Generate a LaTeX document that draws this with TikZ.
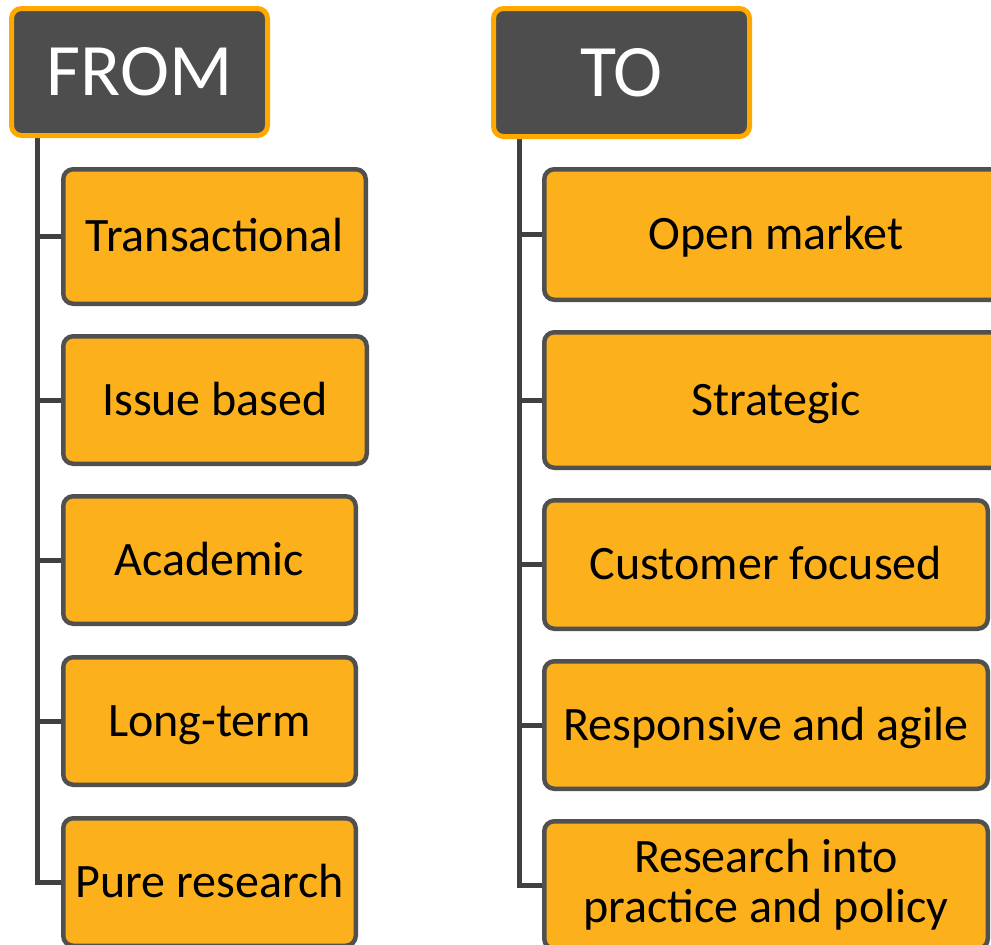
\documentclass[tikz,border=0pt]{standalone}
\usepackage{fontspec}
\setmainfont{Carlito}
\usetikzlibrary{backgrounds}
\definecolor{headfill}{HTML}{4D4D4D}
\definecolor{headedge}{HTML}{FFA800}
\definecolor{itemfill}{HTML}{FBB01C}
\definecolor{itemedge}{HTML}{505050}
\definecolor{trunkcol}{HTML}{404040}
\begin{document}
\begin{tikzpicture}[x=1pt,y=-1pt,
  headbox/.style={draw=headedge, fill=headfill, line width=5pt,
    rounded corners=10pt, inner sep=0pt, outer sep=0pt,
    text=white, font=\fontsize{74}{80}\selectfont,
    text height=47pt, text depth=0pt},
  itembox/.style={draw=itemedge, fill=itemfill, line width=4.5pt,
    rounded corners=10pt, inner sep=0pt, outer sep=0pt,
    text=black, font=\fontsize{48}{50}\selectfont, align=center},
  oneline/.style={itembox, text height=30.5pt, text depth=0pt},
  trunk/.style={draw=trunkcol, line width=5pt}]
\useasboundingbox (0,0) rectangle (991,945);
\clip (0,0) rectangle (991,945);

% column headers
\node[headbox, minimum width=256pt, minimum height=127pt] (from) at (139.5,72) {FROM};
\node[headbox, minimum width=256pt, minimum height=128pt] (to) at (621.5,72.5) {TO};

% left column
\node[oneline, minimum width=302.5pt, minimum height=134.5pt] (l1) at (214.5,236.5) {Transactional};
\node[oneline, minimum width=303.5pt, minimum height=127.5pt] (l2) at (215,400) {Issue based};
\node[oneline, minimum width=292.5pt, minimum height=127.5pt] (l3) at (209.5,560) {Academic};
\node[oneline, minimum width=292.5pt, minimum height=127.5pt] (l4) at (209.5,721) {Long-term};
\node[oneline, minimum width=292.5pt, minimum height=127.5pt] (l5) at (209.5,882) {Pure research};

% right column
\node[oneline, minimum width=463.5pt, minimum height=130.5pt] (r1) at (776,234.5) {Open market};
\node[oneline, minimum width=463.5pt, minimum height=135.5pt] (r2) at (776,400) {Strategic};
\node[oneline, minimum width=443.5pt, minimum height=128.5pt] (r3) at (766,564.5) {Customer focused};
\node[oneline, minimum width=443.5pt, minimum height=127.5pt] (r4) at (766,725) {Responsive and agile};
\node[itembox, minimum width=443.5pt, minimum height=127.5pt] (r5) at (766,885) {Research into\\practice and policy};

% page, trunks and branches behind the boxes
\coordinate (fromroot) at (37,138);
\coordinate (toroot) at (519,138);
\begin{scope}[on background layer]
  \fill[white] (0,0) rectangle (991,945);
  \foreach \n in {l1,l2,l3,l4,l5} \draw[trunk] (fromroot) |- (\n.west);
  \foreach \n in {r1,r2,r3,r4,r5} \draw[trunk] (toroot) |- (\n.west);
\end{scope}
\end{tikzpicture}
\end{document}
